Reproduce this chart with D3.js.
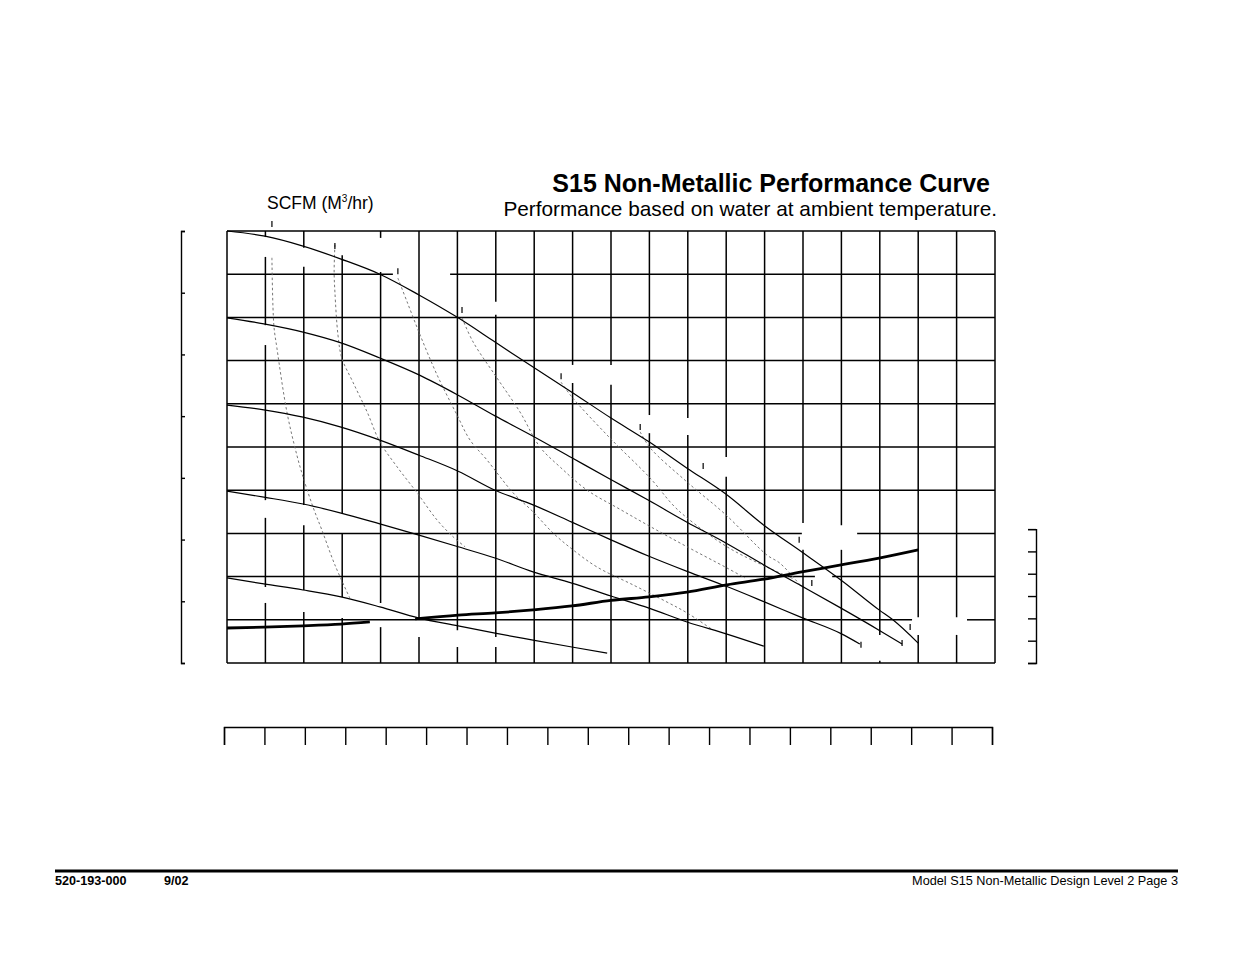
<!DOCTYPE html>
<html>
<head>
<meta charset="utf-8">
<script src="https://cdn.jsdelivr.net/npm/d3@7"></script>
<style>
  body { margin: 0; background: #fff; }
  svg { display: block; }
  text { font-family: "Liberation Sans", Arial, Helvetica, sans-serif; fill: #000; }
</style>
</head>
<body>
<svg id="chart" width="1235" height="954"></svg>
<script>
// flow in GPM, head in PSI (the chart carries no printed tick labels)
var flowTicks = d3.range(0, 201, 10);
var headTicks = d3.range(0, 101, 10);
var barTicks = d3.range(0, 8, 1);
var rightTicks = d3.range(0, 7, 1);
var lpmTicks = d3.range(0, 761, 40);

// air inlet pressure curves [gpm, psi]
var curve100 = [[0,100],[9.9,98.8],[19.8,96.5],[29.7,93.5],[39.8,90.0],[50,85.2],[60.2,79.9],[69.8,74.3],[79.7,68.5],[89.8,62.7],[100,56.7],[109.9,51.2],[119.8,45.1],[129.9,39.1],[139.8,31.9],[149.7,25.7],[160.2,19.0],[169.8,12.3],[173.4,10.0],[180,4.6]];
var curve80 = [[0,79.9],[9.6,78.5],[19.8,76.6],[29.7,74.1],[39.8,70.6],[50,66.7],[60.2,62.0],[69.8,57.2],[79.7,52.5],[89.8,47.5],[99.7,42.6],[109.9,37.6],[119.8,32.6],[129.9,27.8],[139.8,22.7],[149.7,17.8],[159.9,12.7],[169.8,7.6],[175.8,4.4]];
var curve60 = [[0,59.7],[9.6,58.6],[19.8,56.9],[29.7,54.6],[39.8,51.6],[50,48.1],[60.2,44.4],[69.8,40.0],[79.7,36.6],[89.8,32.6],[100,28.5],[109.9,24.7],[119.8,21.2],[130.2,17.7],[139.8,14.2],[149.7,10.5],[159.9,6.8],[164.8,4.4]];
var curve40 = [[0,39.8],[9.6,38.4],[19.8,36.8],[29.7,34.7],[39.8,32.2],[50,29.6],[60.2,26.9],[69.8,24.3],[79.7,21.1],[89.8,18.5],[100,15.5],[109.9,12.7],[119.8,9.5],[130.2,6.7],[139.8,3.9]];
var curve20 = [[0,19.7],[9.6,18.3],[19.8,16.9],[29.7,15.3],[39.8,13.0],[50,10.4],[60.2,8.6],[69.8,6.9],[79.7,5.3],[89.8,3.7],[99,2.3]];

// heavy curve, drawn in two pieces
var heavyA = [[0,8.1],[9.6,8.3],[19.8,8.6],[29.7,9.0],[37.2,9.5]];
var heavyB = [[49,10.2],[60.2,11.1],[69.8,11.6],[79.7,12.3],[89.8,13.2],[100,14.5],[109.9,15.3],[119.8,16.4],[130.2,18.1],[139.8,19.4],[149.7,21.1],[159.9,22.7],[169.8,24.3],[180,26.2]];

// air consumption (SCFM) curves
var scfm1 = [[11.7,93.8],[12.2,78.2],[13.0,72.9],[15.6,58.1],[18.2,48.1],[19.8,43.1],[22.4,36.1],[24.7,30.8],[28.1,22.7],[32.0,15.0]];
var scfm2 = [[28.1,96.8],[27.9,90.5],[28.1,85.9],[28.9,75.9],[29.9,70.6],[32.8,65.0],[36.5,58.1],[39.8,51.2],[44.3,45.4],[49.5,39.4],[54.7,33.1],[58.9,29.2],[62.0,26.9]];
var scfm3 = [[44.5,89.1],[46.9,83.6],[50.3,75.9],[54.7,66.7],[59.9,57.4],[63.3,51.6],[67.7,47.0],[74.5,39.4],[79.7,35.0],[84.9,30.1],[90.1,26.2],[96.4,22.2],[105.7,18.1],[114.6,14.1],[119.8,11.6],[126.6,7.6]];
var scfm4 = [[61.2,79.9],[64.1,74.3],[70.3,66.0],[76.3,58.1],[81.5,50.0],[86.7,45.4],[93.8,40.0],[102.3,35.6],[110.2,31.6],[119.8,26.9],[130.2,22.0],[134.9,19.7]];
var scfm5 = [[87.0,65.0],[89.8,61.6],[99.7,52.1],[110.2,42.8],[116.1,36.6],[119.8,33.6],[130.2,26.9],[140.6,22.2],[147.5,19.5]];
var scfm6 = [[107.6,53.5],[110.2,49.8],[119.8,41.9],[129.9,34.3],[140.6,25.0],[144.0,23.1],[149.2,18.1]];

// short leader marks [gpm, psi at top of mark]
var leaders = [[11.7,102.3],[28.1,97.2],[44.5,91.4],[61.2,82.4],[87.0,67.1],[107.6,55.3],[124.0,46.3],[149.0,29.2],[152.3,19.2],[177.9,9.0],[165.1,4.9],[175.8,5.3]];

// breaks in the grid left by label boxes
var vGaps = [[10,98.6,94.0],[10,78.2,73.6],[10,37.7,33.6],[10,17.6,13.9],
  [20,96.1,91.7],[20,36.6,31.9],[20,16.9,11.8],
  [30,100,94.4],[30,34.7,30.1],[30,15.3,10.4],
  [40,98.4,90.5],[40,13.9,8.3],[50,10.0,6.0],[60,7.6,3.7],
  [70,83.6,80.6],[70,6.0,3.7],[90,69.0,64.8],[100,69.0,64.4],
  [110,57.4,53.2],[120,56.7,52.8],[130,47.7,43.1],
  [150,32.4,26.2],[160,31.9,26.2],[170,6.5,0.5],[180,10.6,6.5],[190,10.6,6.5]];
var hGaps = [[90,43.2,58.1],[30,149.7,164.1],[20,153.1,157.6],[10,178.4,192.7]];

var svg = d3.select("#chart");
var x = d3.scaleLinear().domain([0, 200]).range([227, 995]);
var y = d3.scaleLinear().domain([0, 100]).range([663, 231]);

// grid with breaks
function pieces(lo, hi, gaps) {
  var segs = [], start = lo;
  gaps.sort(function(a, b) { return a[0] - b[0]; }).forEach(function(g) {
    segs.push([start, g[0]]);
    start = g[1];
  });
  segs.push([start, hi]);
  return segs;
}
var grid = svg.append("g").attr("stroke", "#000").attr("stroke-width", 1.5).attr("fill", "none");
flowTicks.forEach(function(f) {
  var gaps = vGaps.filter(function(g) { return g[0] === f; })
    .map(function(g) { return [g[2], g[1]]; });
  pieces(0, 100, gaps).forEach(function(s) {
    grid.append("line").attr("x1", x(f)).attr("x2", x(f)).attr("y1", y(s[0])).attr("y2", y(s[1]));
  });
});
headTicks.forEach(function(h) {
  var gaps = hGaps.filter(function(g) { return g[0] === h; })
    .map(function(g) { return [g[1], g[2]]; });
  pieces(0, 200, gaps).forEach(function(s) {
    grid.append("line").attr("y1", y(h)).attr("y2", y(h)).attr("x1", x(s[0])).attr("x2", x(s[1]));
  });
});

// secondary scales
var barY = d3.scaleLinear().domain([0, 7]).range([y(0), y(100)]);
svg.append("g")
  .attr("transform", "translate(181,0)")
  .call(d3.axisRight(barY).tickValues(barTicks).tickSize(4).tickFormat(""));

var rightY = d3.scaleLinear().domain([0, 6]).range([y(0), y(31)]);
svg.append("g")
  .attr("transform", "translate(1036,0)")
  .call(d3.axisLeft(rightY).tickValues(rightTicks).tickSize(8).tickFormat(""));

var lpmX = d3.scaleLinear().domain([0, 760]).range([x(0) - 3, x(200) - 3]);
svg.append("g")
  .attr("transform", "translate(0,727)")
  .call(d3.axisBottom(lpmX).tickValues(lpmTicks).tickSize(18).tickFormat(""));

svg.selectAll(".domain, .tick line").attr("stroke", "#000").attr("stroke-width", 1.4);

// curves
var solid = d3.line().x(function(d) { return x(d[0]); }).y(function(d) { return y(d[1]); }).curve(d3.curveMonotoneX);
var soft = d3.line().x(function(d) { return x(d[0]); }).y(function(d) { return y(d[1]); }).curve(d3.curveCatmullRom.alpha(0.5));

[scfm1, scfm2, scfm3, scfm4, scfm5, scfm6].forEach(function(c) {
  svg.append("path").datum(c).attr("d", soft)
    .attr("fill", "none").attr("stroke", "#666").attr("stroke-width", 0.9)
    .attr("stroke-dasharray", "2.5,2.5");
});

[curve100, curve80, curve60, curve40, curve20].forEach(function(c) {
  svg.append("path").datum(c).attr("d", solid)
    .attr("fill", "none").attr("stroke", "#000").attr("stroke-width", 1.2);
});

[heavyA, heavyB].forEach(function(c) {
  svg.append("path").datum(c).attr("d", solid)
    .attr("fill", "none").attr("stroke", "#000").attr("stroke-width", 2.8);
});

svg.append("g").selectAll("line").data(leaders).enter().append("line")
  .attr("x1", function(d) { return x(d[0]); }).attr("x2", function(d) { return x(d[0]); })
  .attr("y1", function(d) { return y(d[1]); }).attr("y2", function(d) { return y(d[1]) + 6; })
  .attr("stroke", "#000").attr("stroke-width", 1.2);

// titles
svg.append("text").attr("x", 990).attr("y", 192).attr("text-anchor", "end")
  .style("font-size", "25px").style("font-weight", "bold")
  .text("S15 Non-Metallic Performance Curve");
svg.append("text").attr("x", 997).attr("y", 216).attr("text-anchor", "end")
  .style("font-size", "20.8px")
  .text("Performance based on water at ambient temperature.");

var scfm = svg.append("text").attr("x", 267).attr("y", 209).style("font-size", "17.5px");
scfm.append("tspan").text("SCFM (M");
scfm.append("tspan").attr("dy", -7).style("font-size", "10px").text("3");
scfm.append("tspan").attr("dy", 7).text("/hr)");

// footer
svg.append("line").attr("x1", 55).attr("x2", 1178).attr("y1", 871).attr("y2", 871)
  .attr("stroke", "#000").attr("stroke-width", 3);
svg.append("text").attr("x", 55).attr("y", 885).style("font-size", "12.6px").style("font-weight", "bold").text("520-193-000");
svg.append("text").attr("x", 164).attr("y", 885).style("font-size", "12.6px").style("font-weight", "bold").text("9/02");
svg.append("text").attr("x", 1178).attr("y", 885).attr("text-anchor", "end").style("font-size", "12.7px").text("Model S15 Non-Metallic Design Level 2 Page 3");
</script>
</body>
</html>
